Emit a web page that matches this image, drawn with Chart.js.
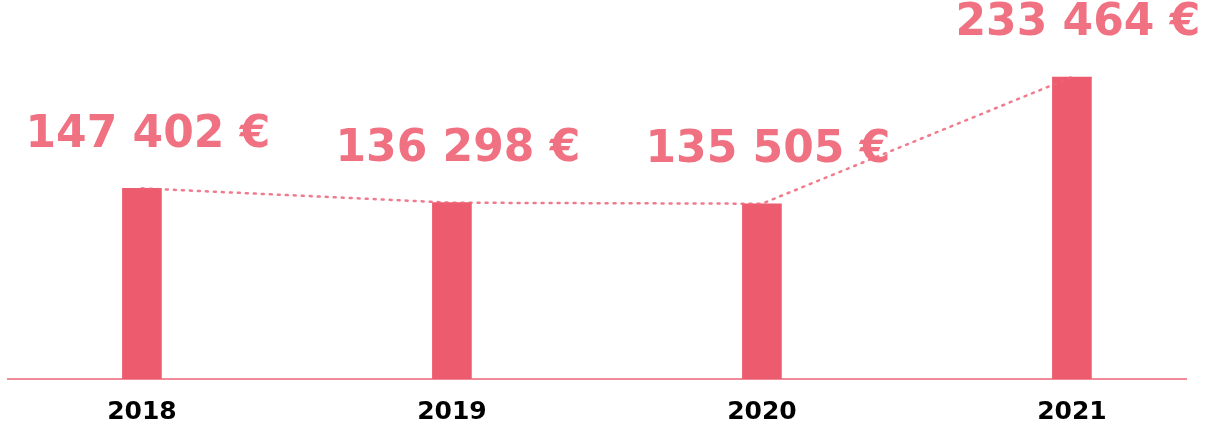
<!DOCTYPE html>
<html>
<head>
<meta charset="utf-8">
<script src="https://cdn.jsdelivr.net/npm/chart.js@4"></script>
<style>
  html, body { margin: 0; padding: 0; background: #fff; }
  #wrap { width: 1207px; height: 424px; position: relative; }
</style>
</head>
<body>
<div id="wrap"><canvas id="revenueChart"></canvas></div>
<script>
// revenue per year
let years = [2018, 2019, 2020, 2021];
let revenue = [147402, 136298, 135505, 233464];
let revenueLabels = ['147 402 €', '136 298 €', '135 505 €', '233 464 €'];

let barColor = '#EC5B6E';
let textColor = '#F07282';

// amount labels above each bar
const amountLabels = {
    id: 'amountLabels',
    afterDatasetsDraw(chart) {
        let ctx = chart.ctx;
        let meta = chart.getDatasetMeta(1);
        ctx.save();
        ctx.font = 'bold 44px "DejaVu Sans"';
        ctx.fillStyle = textColor;
        ctx.textAlign = 'center';
        ctx.textBaseline = 'middle';
        meta.data.forEach((bar, i) => {
            ctx.fillText(revenueLabels[i], bar.x + 6, bar.y - 53);
        });
        ctx.restore();
    }
};

let ctx = document.getElementById('revenueChart').getContext('2d');
let chart = new Chart(ctx, {
    data: {
        datasets: [{
            type: 'line',
            data: years.map((y, i) => ({ x: y, y: revenue[i] })),
            borderColor: 'rgba(238, 100, 120, 0.85)',
            borderWidth: 2.5,
            borderDash: [2, 6],
            borderCapStyle: 'round',
            pointRadius: 0,
            tension: 0,
            order: 0
        }, {
            type: 'bar',
            data: years.map((y, i) => ({ x: y, y: revenue[i] })),
            backgroundColor: barColor,
            barThickness: 39,
            order: 1
        }]
    },
    options: {
        responsive: true,
        maintainAspectRatio: false,
        animation: false,
        layout: { padding: { left: 8, right: 21, top: 0, bottom: 0 } },
        plugins: {
            legend: { display: false },
            tooltip: { enabled: false }
        },
        scales: {
            x: {
                type: 'linear',
                offset: false,
                min: 2017.568,
                max: 2021.368,
                grid: { display: false, drawTicks: false },
                border: { display: true, color: 'rgba(236, 100, 120, 0.75)', width: 2 },
                afterBuildTicks: (scale) => {
                    scale.ticks = years.map(v => ({ value: v }));
                },
                afterFit: (scale) => {
                    scale.height = 45;
                },
                ticks: {
                    padding: 23,
                    color: '#000',
                    font: { family: '"DejaVu Sans"', size: 25, weight: 'bold', lineHeight: 0.8 },
                    callback: (v) => String(v)
                }
            },
            y: {
                display: false,
                min: 0,
                max: 293000
            }
        }
    },
    plugins: [amountLabels]
});
</script>
</body>
</html>
